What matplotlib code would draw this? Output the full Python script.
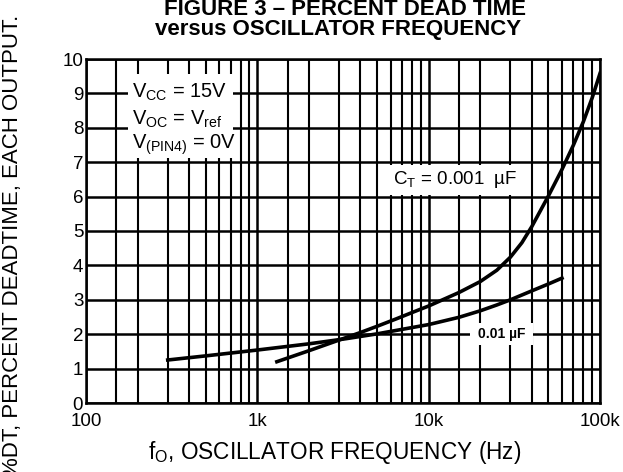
import matplotlib
matplotlib.use("Agg")
import matplotlib.pyplot as plt
import matplotlib.patches as mpatches
import numpy as np

plt.rcParams['font.family'] = ['Liberation Sans', 'DejaVu Sans']
plt.rcParams['mathtext.default'] = 'regular'

# Curve data
freq_001 = [1300, 2000, 3000, 4000, 5000, 6500, 8000, 10000, 15000, 20000, 25000,
            30000, 35000, 40000, 50000, 60000, 70000, 80000, 90000, 100000]
dt_001 = [1.2, 1.52, 1.83, 2.05, 2.23, 2.45, 2.63, 2.82, 3.21, 3.53, 3.86,
          4.24, 4.66, 5.13, 6.02, 6.79, 7.5, 8.18, 8.87, 9.58]

freq_01 = [300, 500, 1000, 2000, 3300, 5000, 10000, 15000, 20000, 25000,
           30000, 40000, 50000, 60000]
dt_01 = [1.25, 1.37, 1.54, 1.72, 1.87, 2.01, 2.28, 2.49, 2.68, 2.85,
         3.0, 3.26, 3.46, 3.63]

x_ticks = [100, 1000, 10000, 100000]
x_tick_labels = ['100', '1k', '10k', '100k']
minor_steps = [1.5, 2, 3, 4, 5, 6, 7, 8, 9]
y_ticks = list(range(0, 11))

fig = plt.figure(figsize=(6.23, 4.72), dpi=100)
ax = fig.add_axes([86 / 623, 1 - 403 / 472, 514 / 623, 344 / 472])

ax.set_xscale('log')
ax.set_xlim(100, 100000)
ax.set_ylim(0, 10)

ax.set_xticks(x_ticks)
ax.set_xticklabels(x_tick_labels)
minor = [d * s for d in x_ticks[:-1] for s in minor_steps]
ax.set_xticks(minor, minor=True)
ax.set_xticklabels([], minor=True)
ax.set_yticks(y_ticks)

ax.tick_params(axis='x', which='both', length=0, pad=7, labelsize=13.5)
ax.tick_params(axis='y', length=0, pad=2, labelsize=13.5)

ax.grid(True, which='major', color='black', lw=1.8)
ax.grid(True, which='minor', axis='x', color='black', lw=1.5)
ax.set_axisbelow(True)
for sp in ax.spines.values():
    sp.set_linewidth(1.8)

ax.plot(freq_001, dt_001, color='black', lw=2.6, zorder=3)
ax.plot(freq_01, dt_01, color='black', lw=2.6, zorder=3)

# white label boxes hiding the grid
def blank(x0, y0, x1, y1):
    ax.add_patch(mpatches.Rectangle((x0, y0), x1 - x0, y1 - y0, transform=ax.transAxes,
                                    facecolor='white', edgecolor='none', zorder=2))

blank(0.082, 0.712, 0.286, 0.957)
blank(0.578, 0.605, 0.850, 0.692)
blank(0.747, 0.169, 0.869, 0.233)

ax.text(0.089, 0.902, r'$V_{CC}$ = 15V', transform=ax.transAxes, fontsize=14.5,
        va='center', ha='left', zorder=4)
ax.text(0.089, 0.824, r'$V_{OC}$ = $V_{ref}$', transform=ax.transAxes, fontsize=14.5,
        va='center', ha='left', zorder=4)
ax.text(0.089, 0.752, r'$V_{(PIN4)}$ = 0V', transform=ax.transAxes, fontsize=14.5,
        va='center', ha='left', zorder=4)
ax.text(0.597, 0.649, r'$C_T$ = 0.001  µF', transform=ax.transAxes, fontsize=13.5,
        va='center', ha='left', zorder=4)
ax.text(0.762, 0.2, '0.01 µF', transform=ax.transAxes, fontsize=10,
        fontweight='bold', va='center', ha='left', zorder=4)

fig.text(345 / 623, 1 - 9.5 / 472, 'FIGURE 3 – PERCENT DEAD TIME', fontsize=16,
         fontweight='bold', ha='center', va='center')
fig.text(338 / 623, 1 - 29 / 472, 'versus OSCILLATOR FREQUENCY', fontsize=16,
         fontweight='bold', ha='center', va='center')
fig.text(335 / 623, 1 - 452 / 472, r'$f_O$, OSCILLATOR FREQUENCY (Hz)', fontsize=16.3,
         ha='center', va='center')
fig.text(13 / 623, 1 - 15 / 472, '%DT, PERCENT DEADTIME, EACH OUTPUT.', fontsize=16,
         rotation=90, ha='center', va='top')

fig.savefig('out.png', dpi=100, facecolor='white')
